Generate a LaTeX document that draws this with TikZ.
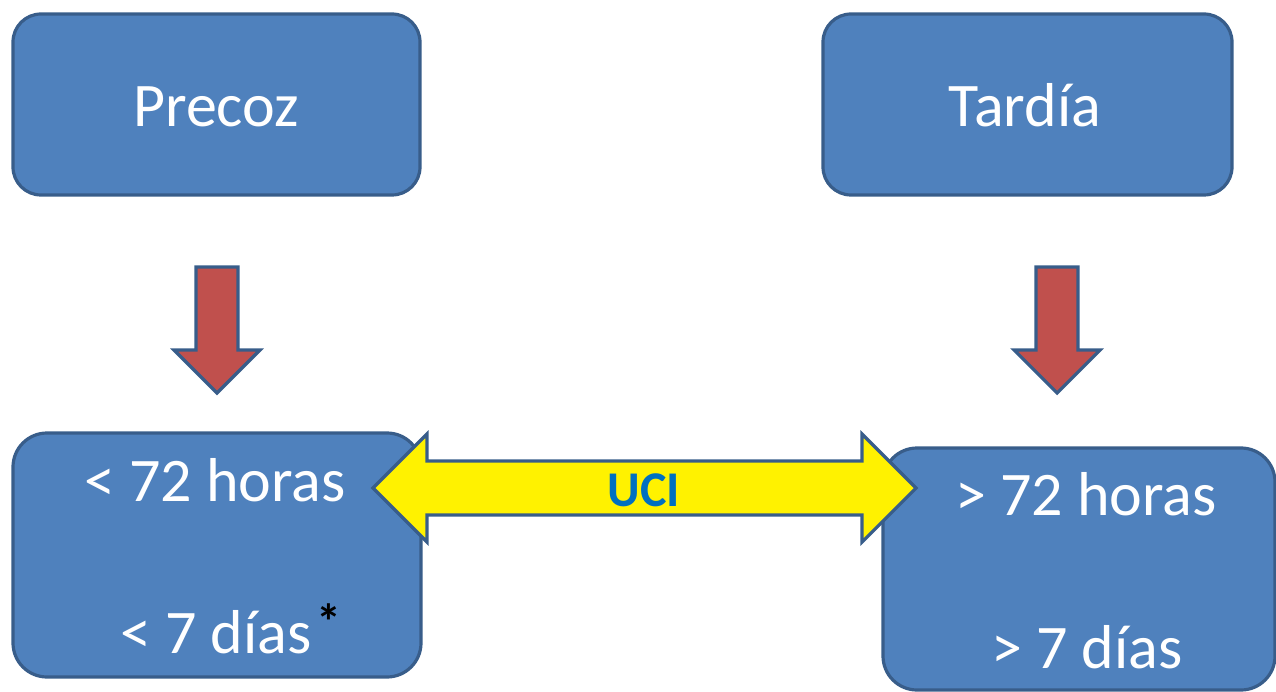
\documentclass[tikz,border=0pt]{standalone}
\usepackage{fontspec}
\setmainfont{Carlito}
\definecolor{boxfill}{HTML}{4F81BD}
\definecolor{boxline}{HTML}{385D8A}
\definecolor{arrowred}{HTML}{C0504D}
\definecolor{uciblue}{HTML}{0070C0}
\begin{document}
\begin{tikzpicture}[x=1pt,y=-1pt,
  stage/.style={draw=boxline, fill=boxfill, line width=3.2pt,
    rounded corners=28pt, inner sep=0pt},
  boxtext/.style={text=white, inner sep=0pt, anchor=base,
    font=\fontsize{62}{74}\selectfont},
  downarrow/.style={draw=boxline, fill=arrowred, line width=3.2pt, line join=miter},
  bothways/.style={draw=boxline, fill=yellow, line width=3.2pt, line join=miter}]
\useasboundingbox (0,0) rectangle (1276,692);
\clip (0,0) rectangle (1276,692);

% top boxes
\node[stage, minimum width=407pt, minimum height=181pt] (precoz) at (216.5,104.5) {};
\node[stage, minimum width=409pt, minimum height=181pt] (tardia) at (1027.5,104.5) {};
\node[boxtext] (tprecoz) at (216,127) {Precoz};
\node[boxtext] (ttardia) at (1025,127) {Tardía};

% bottom boxes
\node[stage, minimum width=408pt, minimum height=244pt, rounded corners=34pt] (early) at (217,555) {};
\node[stage, minimum width=392pt, minimum height=242pt, rounded corners=34pt] (late) at (1079,569) {};
\node[boxtext] (e72) at (215,501) {< 72 horas};
\node[boxtext] (e7) at (216,653) {< 7 días};
\node[text=black, inner sep=0pt, font=\fontsize{50}{50}\selectfont\bfseries] (note) at (329,622) {*};
\node[boxtext] (l72) at (1086,515) {> 72 horas};
\node[boxtext] (l7) at (1087,668) {> 7 días};

% downward block arrows
\draw[downarrow] (196,267) -- (238,267) -- (238,350) -- (260,350) -- (217,393)
  -- (174,350) -- (196,350) -- cycle;
\draw[downarrow] (1036,267) -- (1078,267) -- (1078,350) -- (1100,350) -- (1057,393)
  -- (1014,350) -- (1036,350) -- cycle;

% double-headed block arrow between the bottom boxes
\draw[bothways] (373,488) -- (427,434) -- (427,461) -- (862,461) -- (862,434)
  -- (916,488) -- (862,542) -- (862,515) -- (427,515) -- (427,542) -- cycle;
\node[text=uciblue, inner sep=0pt, anchor=base, font=\fontsize{50}{60}\selectfont\bfseries]
  (uci) at (644,506) {UCI};
\end{tikzpicture}
\end{document}
